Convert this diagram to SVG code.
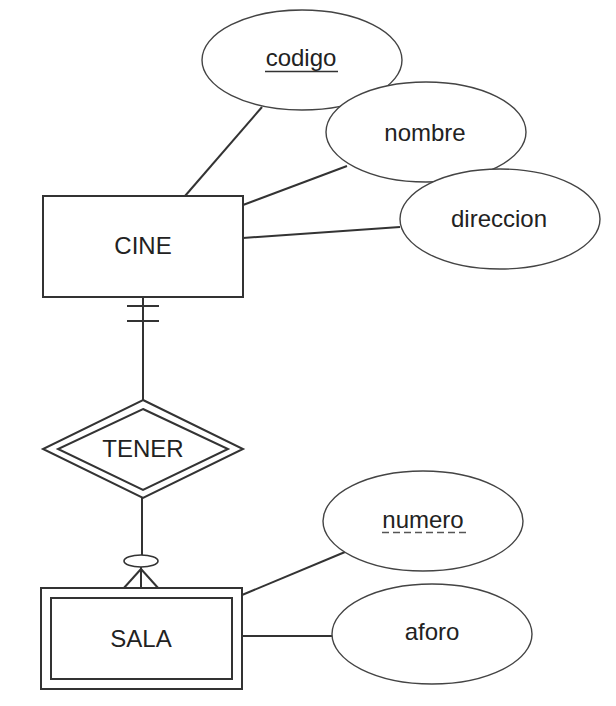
<svg xmlns="http://www.w3.org/2000/svg" width="616" height="706" viewBox="0 0 616 706">
<style>
.ln{stroke:#333;stroke-width:2;fill:none}
.ent{fill:#fff;stroke:#333;stroke-width:2}
.att{fill:#fff;stroke:#444;stroke-width:1.4}
.t{font-family:"Liberation Sans",Arial,sans-serif;font-size:24px;fill:#222;text-anchor:middle}
</style>
<rect width="616" height="706" fill="#fff"/>
<g id="connectors">
<line class="ln" x1="262" y1="107" x2="185" y2="196"/>
<line class="ln" x1="347" y1="166" x2="243" y2="205"/>
<line class="ln" x1="400" y1="227" x2="243" y2="238"/>
<line class="ln" x1="143" y1="297" x2="143" y2="400"/>
<line class="ln" x1="127" y1="306" x2="159" y2="306"/>
<line class="ln" x1="127" y1="321" x2="159" y2="321"/>
<line class="ln" x1="142" y1="498" x2="142" y2="555"/>
<ellipse cx="141" cy="561" rx="17" ry="6" fill="#fff" stroke="#333" stroke-width="1.6"/>
<line class="ln" x1="141" y1="567" x2="141" y2="589"/>
<line class="ln" x1="141" y1="569" x2="123" y2="589"/>
<line class="ln" x1="141" y1="569" x2="159" y2="589"/>
<line class="ln" x1="345" y1="552" x2="242" y2="595"/>
<line class="ln" x1="242" y1="636" x2="332" y2="636"/>
</g>
<g id="codigo">
<ellipse class="att" cx="302" cy="60" rx="100" ry="50"/>
<text class="t" x="301" y="66">codigo</text>
<line x1="265" y1="71.5" x2="338" y2="71.5" stroke="#333" stroke-width="1.5"/>
</g>
<g id="nombre">
<ellipse class="att" cx="426" cy="132" rx="100" ry="50"/>
<text class="t" x="425" y="141">nombre</text>
</g>
<g id="direccion">
<ellipse class="att" cx="500" cy="219" rx="100" ry="50"/>
<text class="t" x="499" y="227">direccion</text>
</g>
<g id="CINE">
<rect class="ent" x="43" y="196" width="200" height="101"/>
<text class="t" x="143" y="254">CINE</text>
</g>
<g id="TENER">
<polygon class="ent" points="143,400 243,449 143,498 43,449"/>
<polygon class="ent" points="143,409 228,449 143,490 58,449"/>
<text class="t" x="143" y="457">TENER</text>
</g>
<g id="SALA">
<rect class="ent" x="41" y="588" width="201" height="101"/>
<rect class="ent" x="51" y="598" width="181" height="81"/>
<text class="t" x="141" y="647">SALA</text>
</g>
<g id="numero">
<ellipse class="att" cx="423" cy="521" rx="100" ry="50"/>
<text class="t" x="423" y="528">numero</text>
<line x1="382" y1="532.5" x2="466" y2="532.5" stroke="#555" stroke-width="1.5" stroke-dasharray="7,4"/>
</g>
<g id="aforo">
<ellipse class="att" cx="432" cy="634" rx="100" ry="50"/>
<text class="t" x="432" y="640">aforo</text>
</g>
</svg>
